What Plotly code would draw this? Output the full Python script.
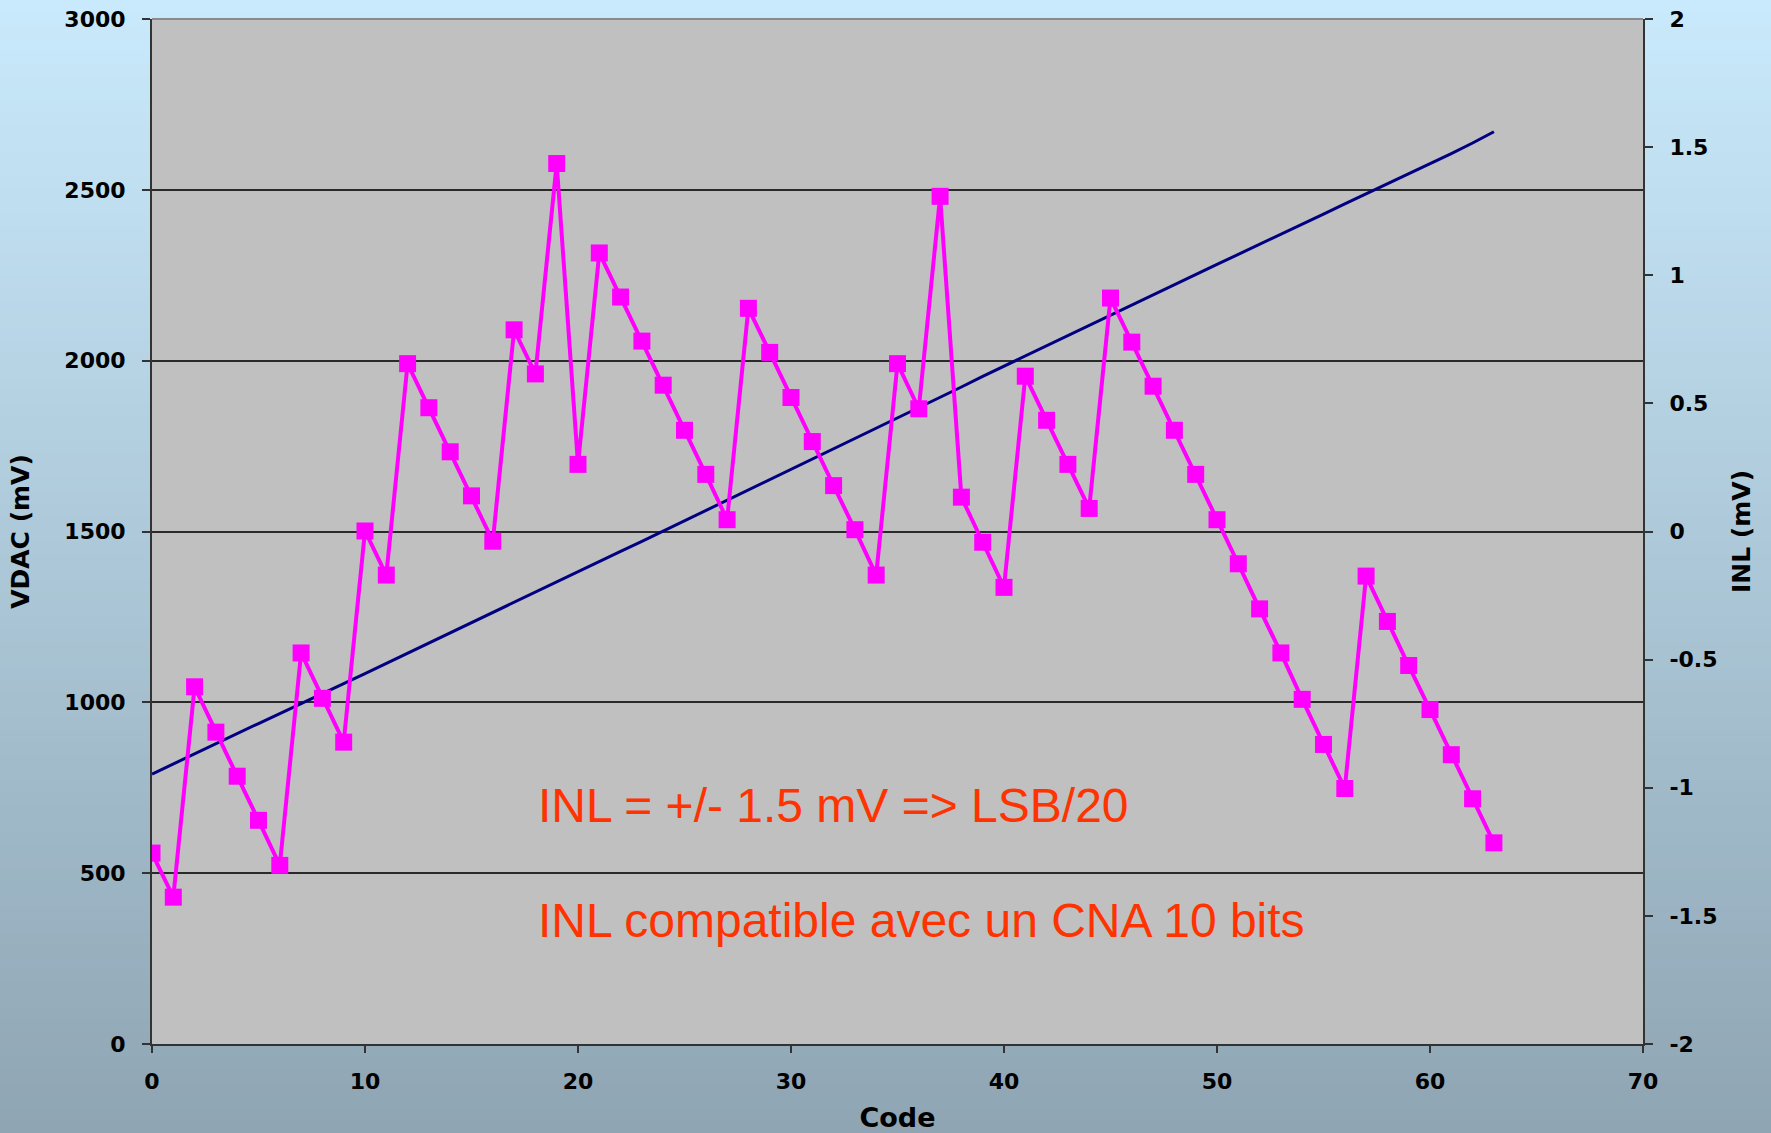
import plotly.graph_objects as go

codes = list(range(64))

vdac_mv = [790, 820, 849, 879, 909, 938, 967, 997, 1027, 1055,
           1084, 1114, 1144, 1173, 1203, 1233, 1262, 1292, 1322, 1352,
           1384, 1412, 1442, 1471, 1501, 1531, 1562, 1592, 1622, 1653,
           1683, 1713, 1743, 1773, 1803, 1833, 1863, 1893, 1923, 1954,
           1984, 2014, 2044, 2073, 2103, 2133, 2162, 2192, 2222, 2252,
           2282, 2311, 2340, 2370, 2400, 2429, 2459, 2488, 2517, 2547,
           2576, 2606, 2637, 2670]

inl_mv = [-1.255, -1.427, -0.606, -0.783, -0.955, -1.127, -1.303, -0.474, -0.651, -0.822,
          0.002, -0.170, 0.655, 0.483, 0.311, 0.139, -0.038, 0.787, 0.615, 1.436,
          0.262, 1.087, 0.915, 0.743, 0.571, 0.395, 0.223, 0.046, 0.871, 0.699,
          0.523, 0.351, 0.179, 0.007, -0.170, 0.655, 0.479, 1.308, 0.134, -0.042,
          -0.218, 0.606, 0.434, 0.262, 0.090, 0.911, 0.739, 0.567, 0.395, 0.223,
          0.046, -0.126, -0.302, -0.474, -0.655, -0.831, -1.003, -0.174, -0.351, -0.523,
          -0.695, -0.871, -1.043, -1.215]

x_ticks = [0, 10, 20, 30, 40, 50, 60, 70]
y_ticks = [0, 500, 1000, 1500, 2000, 2500, 3000]
y2_ticks = [-2, -1.5, -1, -0.5, 0, 0.5, 1, 1.5, 2]
y2_ticktext = ["-2", "-1.5", "-1", "-0.5", "0", "0.5", "1", "1.5", "2"]

note1 = "INL = +/- 1.5 mV => LSB/20"
note2 = "INL compatible avec un CNA 10 bits"

W, H = 1771, 1133
ML, MR, MT, MB = 152, 128, 19, 89
PW, PH = W - ML - MR, H - MT - MB

tick_font = dict(family="DejaVu Sans", size=22, color="black", weight="bold")
title_font = dict(family="DejaVu Sans", size=25, color="black", weight="bold")
axis_col = "#333333"

fig = go.Figure()
fig.add_trace(go.Scatter(x=codes, y=vdac_mv, mode="lines",
                         line=dict(color="#000080", width=3),
                         yaxis="y", showlegend=False))
fig.add_trace(go.Scatter(x=codes, y=inl_mv, mode="lines+markers",
                         line=dict(color="#ff00ff", width=4),
                         marker=dict(symbol="square", size=17, color="#ff00ff"),
                         yaxis="y2", showlegend=False))

# background gradient (paper coordinates extended to full canvas)
x0p = -ML / PW
x1p = (W - ML) / PW
top_c = (201, 234, 252)
bot_c = (143, 165, 179)
n = 90
shapes = []
for i in range(n):
    t = i / (n - 1)
    c = tuple(round(top_c[k] + (bot_c[k] - top_c[k]) * t) for k in range(3))
    ya = (H - MB - (i * H / n)) / PH
    yb = (H - MB - ((i + 1) * H / n)) / PH
    shapes.append(dict(type="rect", xref="paper", yref="paper",
                       x0=x0p, x1=x1p, y0=yb - 0.002, y1=ya,
                       fillcolor="rgb(%d,%d,%d)" % c, line=dict(width=0),
                       layer="below"))
shapes.append(dict(type="rect", xref="paper", yref="paper", x0=0, x1=1, y0=0, y1=1,
                   fillcolor="#c0c0c0", line=dict(width=0), layer="below"))
shapes.append(dict(type="line", xref="paper", yref="paper", x0=0, x1=1, y0=1, y1=1,
                   line=dict(color="#8a8a8a", width=2), layer="above"))

fig.update_layout(
    width=W, height=H,
    margin=dict(l=ML, r=MR, t=MT, b=MB, pad=0, autoexpand=False),
    paper_bgcolor="rgb(143,165,179)",
    plot_bgcolor="rgba(0,0,0,0)",
    shapes=shapes,
    xaxis=dict(range=[0, 70], tickvals=x_ticks, ticks="outside", ticklen=7, tickwidth=2,
               tickcolor=axis_col, showline=True, linecolor=axis_col, linewidth=2,
               showgrid=False, zeroline=False, tickfont=tick_font, automargin=False,
               ticklabelstandoff=10,
               title=dict(text="Code", font=dict(family="DejaVu Sans", size=27,
                                                 color="black", weight="bold"),
                          standoff=18)),
    yaxis=dict(range=[0, 3000], tickvals=y_ticks, ticks="outside", ticklen=8, tickwidth=2,
               tickcolor=axis_col, showline=True, linecolor=axis_col, linewidth=2,
               showgrid=True, gridcolor="#2a2a2a", gridwidth=1.5, zeroline=False,
               tickfont=tick_font, ticklabelstandoff=12, automargin=False,
               title=dict(text="VDAC (mV)", font=title_font, standoff=28)),
    yaxis2=dict(range=[-2, 2], tickvals=y2_ticks, ticktext=y2_ticktext, overlaying="y",
                side="right", ticks="outside", ticklen=8, tickwidth=2, tickcolor=axis_col,
                showline=True, linecolor=axis_col, linewidth=2, showgrid=False,
                zeroline=False, tickfont=tick_font, ticklabelstandoff=12, automargin=False,
                title=dict(text="INL (mV)", font=title_font, standoff=16)),
    annotations=[
        dict(text=note1, xref="paper", yref="paper", x=0.2575, y=0.233,
             xanchor="left", yanchor="middle", showarrow=False,
             font=dict(family="Liberation Sans", size=48, color="#ff3300")),
        dict(text=note2, xref="paper", yref="paper", x=0.2575, y=0.1205,
             xanchor="left", yanchor="middle", showarrow=False,
             font=dict(family="Liberation Sans", size=48, color="#ff3300")),
    ],
)

fig.write_html("out.html")
